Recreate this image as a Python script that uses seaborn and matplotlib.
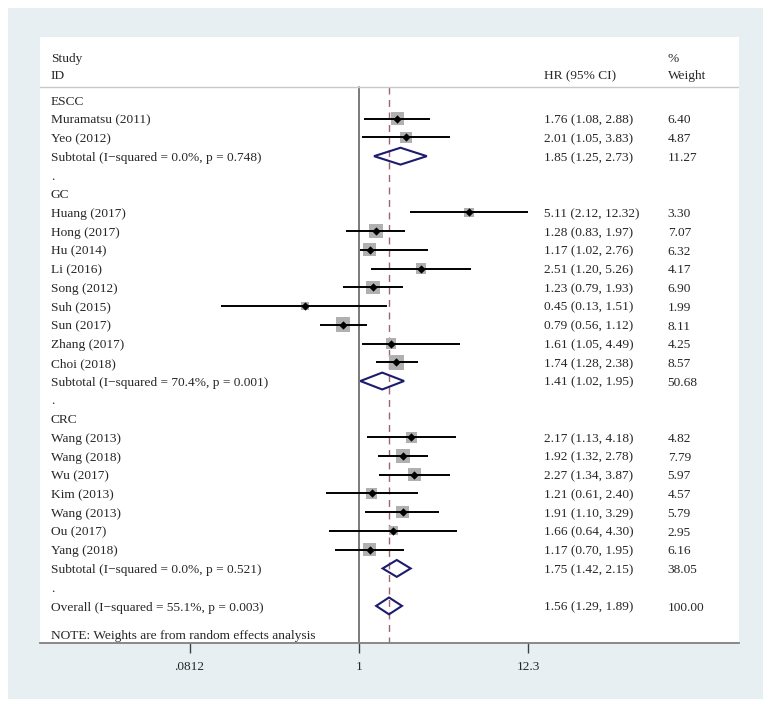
import numpy as np
import pandas as pd
import matplotlib
matplotlib.use("Agg")
import matplotlib.pyplot as plt
import matplotlib.transforms as mtrans
from matplotlib.patches import Rectangle, Polygon
import seaborn as sns

# ---------------- data ----------------
escc_studies = ["Muramatsu (2011)", "Yeo (2012)"]
escc_hr = [1.76, 2.01]
escc_lo = [1.08, 1.05]
escc_hi = [2.88, 3.83]
escc_w = [6.40, 4.87]
escc_sub = (1.85, 1.25, 2.73, 11.27, "Subtotal (I\u2212squared = 0.0%, p = 0.748)")

gc_studies = ["Huang (2017)", "Hong (2017)", "Hu (2014)", "Li (2016)", "Song (2012)",
              "Suh (2015)", "Sun (2017)", "Zhang (2017)", "Choi (2018)"]
gc_hr = [5.11, 1.28, 1.17, 2.51, 1.23, 0.45, 0.79, 1.61, 1.74]
gc_lo = [2.12, 0.83, 1.02, 1.20, 0.79, 0.13, 0.56, 1.05, 1.28]
gc_hi = [12.32, 1.97, 2.76, 5.26, 1.93, 1.51, 1.12, 4.49, 2.38]
gc_w = [3.30, 7.07, 6.32, 4.17, 6.90, 1.99, 8.11, 4.25, 8.57]
gc_sub = (1.41, 1.02, 1.95, 50.68, "Subtotal (I\u2212squared = 70.4%, p = 0.001)")

crc_studies = ["Wang (2013)", "Wang (2018)", "Wu (2017)", "Kim (2013)", "Wang (2013)",
               "Ou (2017)", "Yang (2018)"]
crc_hr = [2.17, 1.92, 2.27, 1.21, 1.91, 1.66, 1.17]
crc_lo = [1.13, 1.32, 1.34, 0.61, 1.10, 0.64, 0.70]
crc_hi = [4.18, 2.78, 3.87, 2.40, 3.29, 4.30, 1.95]
crc_w = [4.82, 7.79, 5.97, 4.57, 5.79, 2.95, 6.16]
crc_sub = (1.75, 1.42, 2.15, 38.05, "Subtotal (I\u2212squared = 0.0%, p = 0.521)")

overall = (1.56, 1.29, 1.89, 100.00, "Overall (I\u2212squared = 55.1%, p = 0.003)")
note = "NOTE: Weights are from random effects analysis"

tick_vals = [0.0812, 1, 12.3]
tick_labels = [".0812", "1", "12.3"]

# ---------------- build row table ----------------
rows = []
def add(kind, label, hr=np.nan, lo=np.nan, hi=np.nan, w=np.nan):
    rows.append(dict(kind=kind, label=label, hr=hr, lo=lo, hi=hi, w=w))

for gname, st, hr, lo, hi, w, sub in [
        ("ESCC", escc_studies, escc_hr, escc_lo, escc_hi, escc_w, escc_sub),
        ("GC", gc_studies, gc_hr, gc_lo, gc_hi, gc_w, gc_sub),
        ("CRC", crc_studies, crc_hr, crc_lo, crc_hi, crc_w, crc_sub)]:
    add("group", gname)
    for s, a, b, c, d in zip(st, hr, lo, hi, w):
        add("study", s, a, b, c, d)
    add("sub", sub[4], *sub[:4])
    add("dot", ".")
add("overall", overall[4], *overall[:4])

df = pd.DataFrame(rows)
df["row"] = np.arange(len(df), dtype=float)
studies = df[df.kind == "study"]
pooled = df[df.kind.isin(["sub", "overall"])]

# ---------------- figure ----------------
sns.set_style("white")
plt.rcParams["font.family"] = ["Liberation Serif", "DejaVu Serif"]
FS = 9.6

W, H = 772, 707
fig = plt.figure(figsize=(W / 100, H / 100), dpi=100, facecolor="white")
bg = Rectangle((8 / W, 1 - 699 / H), 755 / W, 691 / H,
               transform=fig.transFigure, facecolor="#e8eff2",
               edgecolor="none", zorder=-10)
fig.add_artist(bg)

ax = fig.add_axes([40 / W, 1 - 643 / H, 699 / W, 606 / H])
ax.set_zorder(5)
ax.set_facecolor("white")
ax.set_xscale("log")
x_left, x_right = np.exp(-4.726), np.exp(5.63)

# boxes
sns.scatterplot(data=studies, x="hr", y="row", size="w", sizes=(0, 140),
                size_norm=(0, 10), marker="s", color="#b0b0b0", linewidth=0,
                legend=False, ax=ax, zorder=3)
# CI lines
ax.hlines(studies["row"], studies["lo"], studies["hi"], color="black", lw=1.4, zorder=4)
# centre points
sns.scatterplot(data=studies, x="hr", y="row", marker="D", s=18, color="black",
                linewidth=0, legend=False, ax=ax, zorder=5)

# diamonds
for _, r in pooled.iterrows():
    poly = Polygon([(r.lo, r.row), (r.hr, r.row - 0.45), (r.hi, r.row), (r.hr, r.row + 0.45)],
                   closed=True, fill=False, edgecolor="#1c1c6e", lw=1.5, zorder=6)
    ax.add_patch(poly)

# reference lines
sep_row = -0.7
ax.plot([1, 1], [sep_row, 28.98], color="#707070", lw=1.3, zorder=2)
ov = float(pooled[pooled.kind == "overall"]["hr"].iloc[0])
ax.plot([ov, ov], [sep_row, 28.98], color="#a0646e", lw=1.0, dashes=(5, 4), zorder=2)
ax.plot([x_left, x_right], [sep_row, sep_row], color="#c8c8c8", lw=1.0, zorder=2)

ax.set_xlim(x_left, x_right)
ax.set_ylim(28.98, -3.36)

# text (baseline aligned)
trans = mtrans.blended_transform_factory(ax.transAxes, ax.transData)
xl, xh, xw = 0.0157, 0.721, 0.898
B = 0.25
def put(x, y, s):
    ax.text(x, y + B, s, transform=trans, fontsize=FS, va="baseline", ha="left")

put(xl, -2.3, "Study")
put(xl, -1.35, "ID")
put(xh, -1.35, "HR (95% CI)")
put(xw, -2.3, "%")
put(xw, -1.35, "Weight")

for _, r in df.iterrows():
    put(xl, r.row, r.label)
    if r.kind in ("study", "sub", "overall"):
        put(xh, r.row, f"{r.hr:.2f} ({r.lo:.2f}, {r.hi:.2f})")
        put(xw, r.row, f"{r.w:.2f}")
put(xl, 28.5, note)

# axes styling
for s in ["top", "left", "right"]:
    ax.spines[s].set_visible(False)
ax.spines["bottom"].set_color("#808080")
ax.spines["bottom"].set_linewidth(1.3)
ax.set_yticks([])
ax.set_xticks(tick_vals)
ax.set_xticklabels(tick_labels)
ax.xaxis.set_minor_locator(matplotlib.ticker.NullLocator())
ax.tick_params(axis="x", length=7.5, width=1.0, color="#404040", labelsize=FS, pad=5.5,
               bottom=True)
ax.set_xlabel("")
ax.set_ylabel("")

fig.savefig("out.png", dpi=100, facecolor="white")
